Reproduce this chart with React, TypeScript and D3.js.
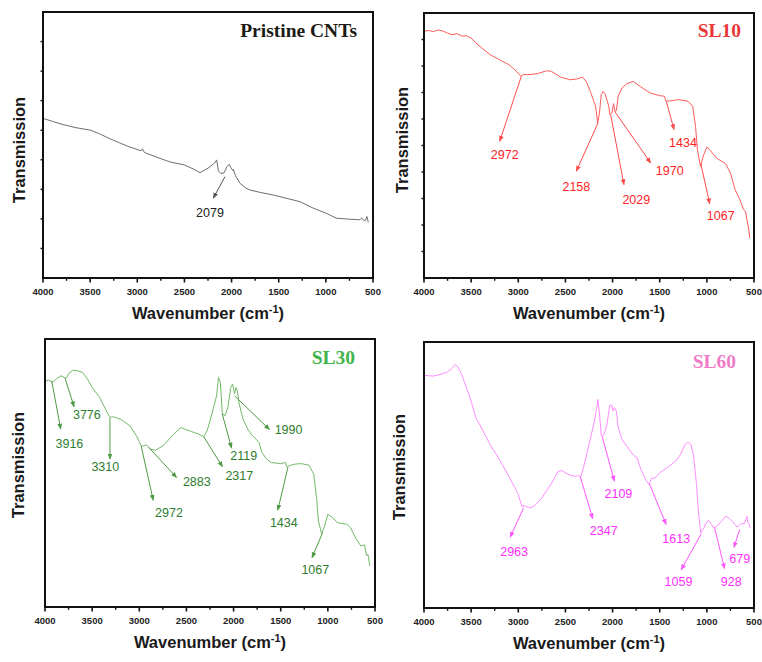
import React from "react";
import * as d3 from "d3";

// ---------- DATA ----------
const wnMajorTicks = [4000, 3500, 3000, 2500, 2000, 1500, 1000, 500];
const wnMinorTicks = [3750, 3250, 2750, 2250, 1750, 1250, 750];
const panelTitles = ["Pristine CNTs", "SL10", "SL30", "SL60"];
const xAxisTitle = "Wavenumber (cm";
const yAxisTitle = "Transmission";

// [wavenumber, transmission (a.u., 0-100 of frame)]
const cntSpectrum: [number, number][] = [
  [4000, 60], [3900, 58.9], [3800, 57.8], [3650, 56.5], [3500, 55.6], [3400, 54.2], [3300, 52.5],
  [3200, 51], [3100, 49.5], [2960, 47.8], [2945, 48.6], [2925, 47.2], [2800, 45.5], [2650, 43.6],
  [2500, 42.5], [2400, 40.9], [2335, 39.6], [2250, 41.3], [2180, 43.2], [2158, 44.4], [2140, 40.3],
  [2115, 39.3], [2080, 39.5], [2050, 41.8], [2024, 42.7], [2000, 41], [1988, 40.4], [1982, 40.9],
  [1960, 38.6], [1911, 35.6], [1850, 33.8], [1805, 33.1], [1700, 32.2], [1557, 31.2], [1400, 29.8],
  [1274, 28.7], [1150, 26.5], [1000, 24.4], [890, 22.5], [750, 22.1], [640, 21.9], [620, 22.6],
  [600, 21.7], [580, 21.6], [565, 23.1], [560, 22.6], [550, 20.9],
];

const sl10Spectrum: [number, number][] = [
  [4000, 93.1], [3950, 93.4], [3900, 93.0], [3850, 93.6], [3800, 93.2], [3750, 92.4], [3700, 91.8],
  [3650, 92.2], [3600, 91.3], [3550, 91.4], [3500, 90.6], [3450, 88.7], [3380, 86.6], [3300, 84.3],
  [3200, 82.4], [3100, 80.5], [3020, 78], [2972, 76.1], [2940, 76.9], [2900, 76.7], [2800, 77.1],
  [2700, 78.2], [2650, 78], [2550, 75.8], [2450, 74.8], [2380, 75.1], [2320, 75.8], [2280, 74.2],
  [2230, 69.8], [2180, 64.8], [2158, 58.5], [2140, 62], [2120, 69.2], [2100, 70.4], [2080, 69.6],
  [2040, 64.8], [2029, 61.6], [2005, 62.3], [1990, 65.8], [1975, 62.9], [1960, 63.2], [1940, 68.6],
  [1900, 71.7], [1850, 73.3], [1780, 74.2], [1700, 72.1], [1600, 69.8], [1500, 68.8], [1450, 68.6],
  [1434, 66.7], [1400, 66.8], [1300, 67.3], [1200, 66.7], [1150, 64.8], [1120, 57.2], [1100, 48.4],
  [1067, 42.1], [1040, 45.9], [1000, 49.4], [970, 48.4], [900, 45.3], [800, 43.1], [750, 39.6],
  [700, 33.3], [650, 29.6], [610, 25.8], [590, 25.2], [575, 22], [555, 18.2], [545, 15.1],
];

const sl30Spectrum: [number, number][] = [
  [4000, 84.4], [3960, 84.6], [3916, 83.8], [3880, 85.1], [3830, 86.3], [3776, 85.3], [3740, 87.5],
  [3700, 88.4], [3650, 88.1], [3600, 87.5], [3550, 85.1], [3500, 81.9], [3420, 78.2], [3350, 73.2],
  [3310, 70.7], [3280, 71], [3200, 70.1], [3100, 67.6], [3030, 63.9], [2980, 60.1], [2950, 60.1],
  [2930, 60.5], [2900, 59.7], [2883, 58.9], [2830, 58.5], [2750, 60.1], [2650, 63.9], [2560, 67],
  [2520, 66.4], [2450, 65.5], [2370, 64.5], [2317, 63.5], [2280, 65.8], [2230, 72], [2180, 78.8],
  [2160, 85.7], [2140, 83.8], [2119, 72], [2090, 71.4], [2060, 74.5], [2030, 81.9], [2010, 83.2],
  [1990, 79.5], [1975, 81.9], [1960, 80.7], [1940, 75.7], [1900, 70.1], [1850, 66.4], [1800, 63.9],
  [1760, 62.6], [1730, 61.4], [1700, 57.7], [1650, 55.2], [1600, 53.9], [1500, 53.5], [1450, 53.9],
  [1434, 52.1], [1410, 52.7], [1350, 53.3], [1280, 53.5], [1200, 52.9], [1150, 49.6], [1120, 40.8],
  [1100, 32.1], [1067, 27.4], [1040, 29.6], [1000, 34.6], [950, 33.4], [900, 31.5], [850, 31.1],
  [800, 30.9], [760, 29.6], [700, 25.4], [650, 22.8], [610, 23.2], [590, 19.1], [575, 19.7],
  [555, 15.3],
];

const sl60Spectrum: [number, number][] = [
  [4000, 87.5], [3950, 87.3], [3900, 87.2], [3850, 87.6], [3800, 88.1], [3750, 88.8], [3700, 90.1],
  [3670, 91.6], [3640, 90.6], [3600, 87.8], [3550, 82.8], [3500, 77.8], [3450, 71.5], [3400, 68.4],
  [3300, 61.5], [3200, 55.8], [3100, 49.6], [3000, 42.7], [2963, 38.3], [2920, 38.3], [2880, 37.6],
  [2830, 38.3], [2750, 41.4], [2650, 46.7], [2580, 51.2], [2540, 51.7], [2500, 50.8], [2450, 49.9],
  [2400, 49.5], [2360, 49.8], [2340, 48.9], [2300, 54], [2250, 61.5], [2200, 69], [2170, 74.7],
  [2155, 78.4], [2140, 73.4], [2120, 65], [2109, 64.2], [2080, 66.4], [2060, 69], [2030, 76.3],
  [2010, 76.3], [1995, 74], [1980, 75.3], [1960, 74], [1940, 67.8], [1900, 63.4], [1850, 60.9],
  [1780, 57.5], [1740, 56.5], [1700, 52.1], [1650, 48.3], [1613, 46.4], [1590, 48.7], [1550, 48.9],
  [1500, 50.8], [1400, 53.3], [1330, 55.2], [1280, 57.7], [1230, 61.5], [1200, 62.4], [1170, 61.5],
  [1140, 57.1], [1110, 46.4], [1090, 36.4], [1065, 28.2], [1040, 29.5], [1000, 32.4], [980, 32.9],
  [950, 31.4], [928, 30.1], [900, 30.5], [850, 32.4], [800, 34.5], [760, 33.6], [700, 31.4],
  [680, 30.4], [640, 31.6], [600, 31.9], [575, 34.5], [565, 32], [550, 31.4], [540, 30.1],
];

type Peak = { label: string; from: [number, number]; to: [number, number]; text: [number, number] };

const cntPeaks: Peak[] = [
  { label: "2079", from: [2070, 38.1], to: [2194, 30], text: [2229, 24.4] },
];
const sl10Peaks: Peak[] = [
  { label: "2972", from: [2968, 76.1], to: [3197, 51.6], text: [3144, 46.3] },
  { label: "2158", from: [2155, 58.5], to: [2384, 40.3], text: [2384, 34.2] },
  { label: "2029", from: [2020, 61.6], to: [1879, 35.2], text: [1748, 29.3] },
  { label: "1970", from: [1978, 62.9], to: [1596, 43.4], text: [1394, 40.5] },
  { label: "1434", from: [1430, 66.7], to: [1348, 56], text: [1253, 50.9] },
  { label: "1067", from: [1066, 43.4], to: [970, 28], text: [853, 23.5] },
];
const sl30Peaks: Peak[] = [
  { label: "3916", from: [3929, 84.4], to: [3833, 66.4], text: [3741, 61] },
  { label: "3776", from: [3787, 85.3], to: [3691, 74.7], text: [3556, 71.7] },
  { label: "3310", from: [3311, 70.5], to: [3311, 55.2], text: [3360, 52.1] },
  { label: "2972", from: [2980, 60.1], to: [2852, 39.8], text: [2685, 35.2] },
  { label: "2883", from: [2898, 59.5], to: [2604, 48.3], text: [2390, 46.8] },
  { label: "2317", from: [2316, 63.5], to: [2117, 52.3], text: [1939, 48.9] },
  { label: "2119", from: [2120, 72], to: [2021, 59.3], text: [1893, 56.4] },
  { label: "1990", from: [1989, 78.8], to: [1619, 66.2], text: [1417, 66] },
  { label: "1434", from: [1424, 52.1], to: [1531, 36.1], text: [1467, 31.5] },
  { label: "1067", from: [1055, 27.8], to: [1168, 18.4], text: [1133, 13.9] },
];
const sl60Peaks: Peak[] = [
  { label: "2963", from: [2944, 37.6], to: [3086, 26.6], text: [3044, 21.1] },
  { label: "2347", from: [2342, 49.3], to: [2211, 33.6], text: [2094, 29.1] },
  { label: "2109", from: [2108, 64.2], to: [1981, 47.7], text: [1938, 42.9] },
  { label: "1613", from: [1609, 46.7], to: [1432, 31.4], text: [1325, 26.1] },
  { label: "1059", from: [1060, 27.9], to: [1272, 14.4], text: [1301, 9.8] },
  { label: "928", from: [918, 30.1], to: [812, 14.8], text: [741, 9.8] },
  { label: "679", from: [652, 29.5], to: [713, 22.8], text: [652, 18.6] },
];

const spectra = [cntSpectrum, sl10Spectrum, sl30Spectrum, sl60Spectrum];
const peaks = [cntPeaks, sl10Peaks, sl30Peaks, sl60Peaks];

// ---------- LAYOUT & STYLE ----------
const layout = [
  { x0: 43, x1: 373, y0: 12, y1: 278, yTicks: 9, ylabX: 19, ylabY: 150, titleX: 357, titleY: 37 },
  { x0: 424, x1: 754, y0: 13, y1: 278, yTicks: 10, ylabX: 402, ylabY: 140, titleX: 741, titleY: 37 },
  { x0: 45, x1: 375, y0: 339, y1: 607, yTicks: 0, ylabX: 17.5, ylabY: 465, titleX: 355, titleY: 364 },
  { x0: 424, x1: 754, y0: 342, y1: 608, yTicks: 0, ylabX: 398.5, ylabY: 467, titleX: 736, titleY: 368 },
];
const styles = [
  { line: "#6e6e6e", arrow: "#555555", label: "#222222", title: "#1c1a14" },
  { line: "#ff5a5a", arrow: "#ff4a4a", label: "#ff2323", title: "#e8383a" },
  { line: "#74b86a", arrow: "#4f9a45", label: "#2e7d2e", title: "#3fb54c" },
  { line: "#ff8cff", arrow: "#ff55ff", label: "#ff30ff", title: "#f07cc8" },
];

const SANS = "'Liberation Sans', Arial, sans-serif";
const SERIF = "'Liberation Serif', 'Times New Roman', serif";

function Panel({ idx }: { idx: number }) {
  const L = layout[idx];
  const S = styles[idx];
  const x = d3.scaleLinear().domain([4000, 500]).range([L.x0, L.x1]);
  const y = d3.scaleLinear().domain([0, 100]).range([L.y1, L.y0]);
  const line = d3
    .line<[number, number]>()
    .x((d) => x(d[0]))
    .y((d) => y(d[1]));
  const markerId = `arrowhead-${idx}`;
  const yTickPos: number[] = [];
  for (let k = 1; k < L.yTicks; k++) yTickPos.push(L.y1 - ((L.y1 - L.y0) * k) / L.yTicks);
  const cx = (L.x0 + L.x1) / 2;
  return (
    <g>
      <defs>
        <marker
          id={markerId}
          viewBox="0 0 10 10"
          refX={9}
          refY={5}
          markerWidth={6}
          markerHeight={6}
          orient="auto"
        >
          <path d="M0,1 L10,5 L0,9 z" fill={S.arrow} />
        </marker>
      </defs>
      {/* spectrum */}
      <path d={line(spectra[idx]) || ""} fill="none" stroke={S.line} strokeWidth={1} />
      {/* annotations */}
      {peaks[idx].map((p, i) => (
        <g key={i}>
          <line
            x1={x(p.from[0])}
            y1={y(p.from[1])}
            x2={x(p.to[0])}
            y2={y(p.to[1])}
            stroke={S.arrow}
            strokeWidth={1}
            markerEnd={`url(#${markerId})`}
          />
          <text
            x={x(p.text[0])}
            y={y(p.text[1])}
            textAnchor="middle"
            dominantBaseline="central"
            fontFamily={SANS}
            fontSize={12.5}
            fill={S.label}
          >
            {p.label}
          </text>
        </g>
      ))}
      {/* frame */}
      <rect
        x={L.x0}
        y={L.y0}
        width={L.x1 - L.x0}
        height={L.y1 - L.y0}
        fill="none"
        stroke="#111"
        strokeWidth={2}
      />
      {/* x ticks */}
      {wnMajorTicks.map((t) => (
        <g key={`M${t}`}>
          <line x1={x(t)} x2={x(t)} y1={L.y1} y2={L.y1 + 4.5} stroke="#111" strokeWidth={1.6} />
          <text
            x={x(t)}
            y={L.y1 + 13}
            textAnchor="middle"
            dominantBaseline="central"
            fontFamily={SANS}
            fontWeight="bold"
            fontSize={9.5}
            fill="#222"
          >
            {t}
          </text>
        </g>
      ))}
      {wnMinorTicks.map((t) => (
        <line key={`m${t}`} x1={x(t)} x2={x(t)} y1={L.y1} y2={L.y1 + 2.8} stroke="#111" strokeWidth={1.4} />
      ))}
      {/* y ticks */}
      {yTickPos.map((yy, i) => (
        <line key={`y${i}`} x1={L.x0 - 2.5} x2={L.x0} y1={yy} y2={yy} stroke="#111" strokeWidth={1.4} />
      ))}
      {/* axis titles */}
      <text
        x={cx}
        y={L.y1 + 41}
        textAnchor="middle"
        fontFamily={SANS}
        fontWeight="bold"
        fontSize={16.5}
        fill="#1a1a1a"
      >
        {xAxisTitle}
        <tspan dy={-6} fontSize={11}>
          -1
        </tspan>
        <tspan dy={6}>)</tspan>
      </text>
      <text
        transform={`translate(${L.ylabX},${L.ylabY}) rotate(-90)`}
        textAnchor="middle"
        dominantBaseline="central"
        fontFamily={SANS}
        fontWeight="bold"
        fontSize={16.5}
        fill="#1a1a1a"
      >
        {yAxisTitle}
      </text>
      {/* panel title */}
      <text
        x={L.titleX}
        y={L.titleY}
        textAnchor="end"
        fontFamily={SERIF}
        fontWeight="bold"
        fontSize={19.5}
        fill={S.title}
      >
        {panelTitles[idx]}
      </text>
    </g>
  );
}

export default function App() {
  return (
    <svg
      width={762}
      height={662}
      style={{ position: "absolute", left: 0, top: 0, background: "#fff" }}
    >
      <rect x={0} y={0} width={762} height={662} fill="#fff" />
      {[0, 1, 2, 3].map((i) => (
        <Panel key={i} idx={i} />
      ))}
    </svg>
  );
}
